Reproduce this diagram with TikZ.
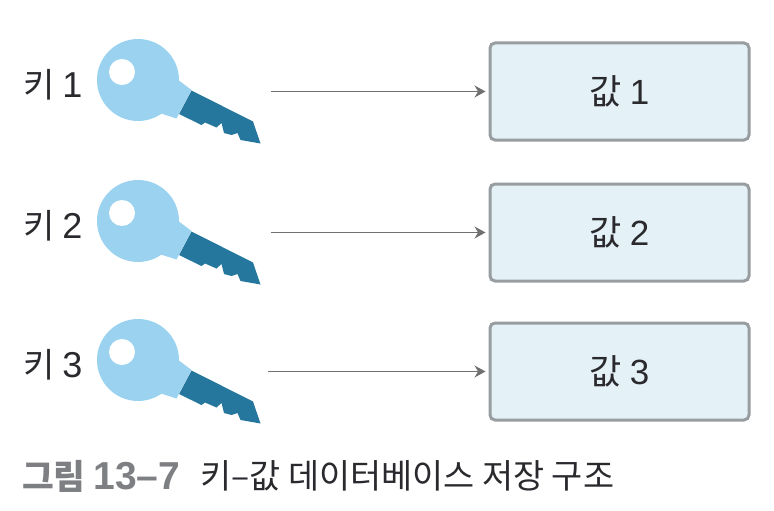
\documentclass[tikz,border=0pt]{standalone}
\usepackage{fontspec}
\usetikzlibrary{arrows.meta}
\newfontfamily\krfont{Noto Sans CJK KR}
\newfontfamily\latfont{Liberation Sans}
\definecolor{keylight}{HTML}{9BD2EF}
\definecolor{keydark}{HTML}{26779E}
\definecolor{boxfill}{HTML}{E4F1F7}
\definecolor{boxline}{HTML}{989DA1}
\definecolor{linegray}{HTML}{707070}
\definecolor{capgray}{HTML}{7D7F82}
\definecolor{textdark}{HTML}{2A2A2E}

\begin{document}
\begin{tikzpicture}[x=1pt,y=-1pt,
  key label/.style={text=textdark,inner sep=0pt,font=\krfont\fontsize{34}{36}\selectfont},
  val node/.style={rectangle,rounded corners=5pt,fill=boxfill,draw=boxline,line width=3pt,
    minimum width=259pt,minimum height=97pt,text=textdark,font=\krfont\fontsize{35}{36}\selectfont},
  cap gray/.style={text=capgray,inner sep=0pt,anchor=west,font=\krfont\bfseries\fontsize{34.5}{36}\selectfont},
  cap black/.style={text=textdark,inner sep=0pt,anchor=west,font=\krfont\fontsize{33.8}{36}\selectfont},
  link/.style={-{Stealth[length=11pt,width=12pt]},draw=linegray,line width=1.2pt,shorten >=3pt},
  key shape/.pic={
    % blade first, neck and head over it
    \fill[keydark] (191.5,90.5) -- (253,121.5) -- (260.5,143.5) -- (240.5,140) -- (237.5,133)
      -- (231.5,135) -- (224,133) -- (221.5,123) -- (216.5,127.5) -- (205,122.5) -- (201.5,125)
      -- (179,114) -- cycle;
    \fill[keylight] (165,70) -- (191.5,90) -- (176.5,118.5) -- (150,110) -- cycle;
    \fill[keylight] (138,80) circle (41);
    \fill[white] (122,72) circle (13);
  }]
  \useasboundingbox (0,0) rectangle (774,511);

  \pic at (0,0) {key shape};
  \pic at (0,141) {key shape};
  \pic at (0,280) {key shape};

  \node[key label] (key1) at (53,85) {키 {\latfont\fontsize{36}{36}\selectfont 1}};
  \node[key label] (key2) at (53,226) {키 {\latfont\fontsize{36}{36}\selectfont 2}};
  \node[key label] (key3) at (53,365) {키 {\latfont\fontsize{36}{36}\selectfont 3}};

  \node[val node] (val1) at (619.5,91.5) {값 {\latfont 1}};
  \node[val node] (val2) at (619.5,232.5) {값 {\latfont 2}};
  \node[val node] (val3) at (619.5,371.5) {값 {\latfont 3}};

  \coordinate (tail1) at (271,91.5);
  \coordinate (tail2) at (271,232.5);
  \coordinate (tail3) at (268,371.5);

  \draw[link] (tail1) -- (val1);
  \draw[link] (tail2) -- (val2);
  \draw[link] (tail3) -- (val3);

  \node[cap gray] (capnum) at (22,476) {그림 {\latfont\bfseries\fontsize{39}{36}\selectfont 13–7}};
  \node[cap black] (captxt) at (200,476) {키–값 데이터베이스 저장 구조};

\end{tikzpicture}
\end{document}
